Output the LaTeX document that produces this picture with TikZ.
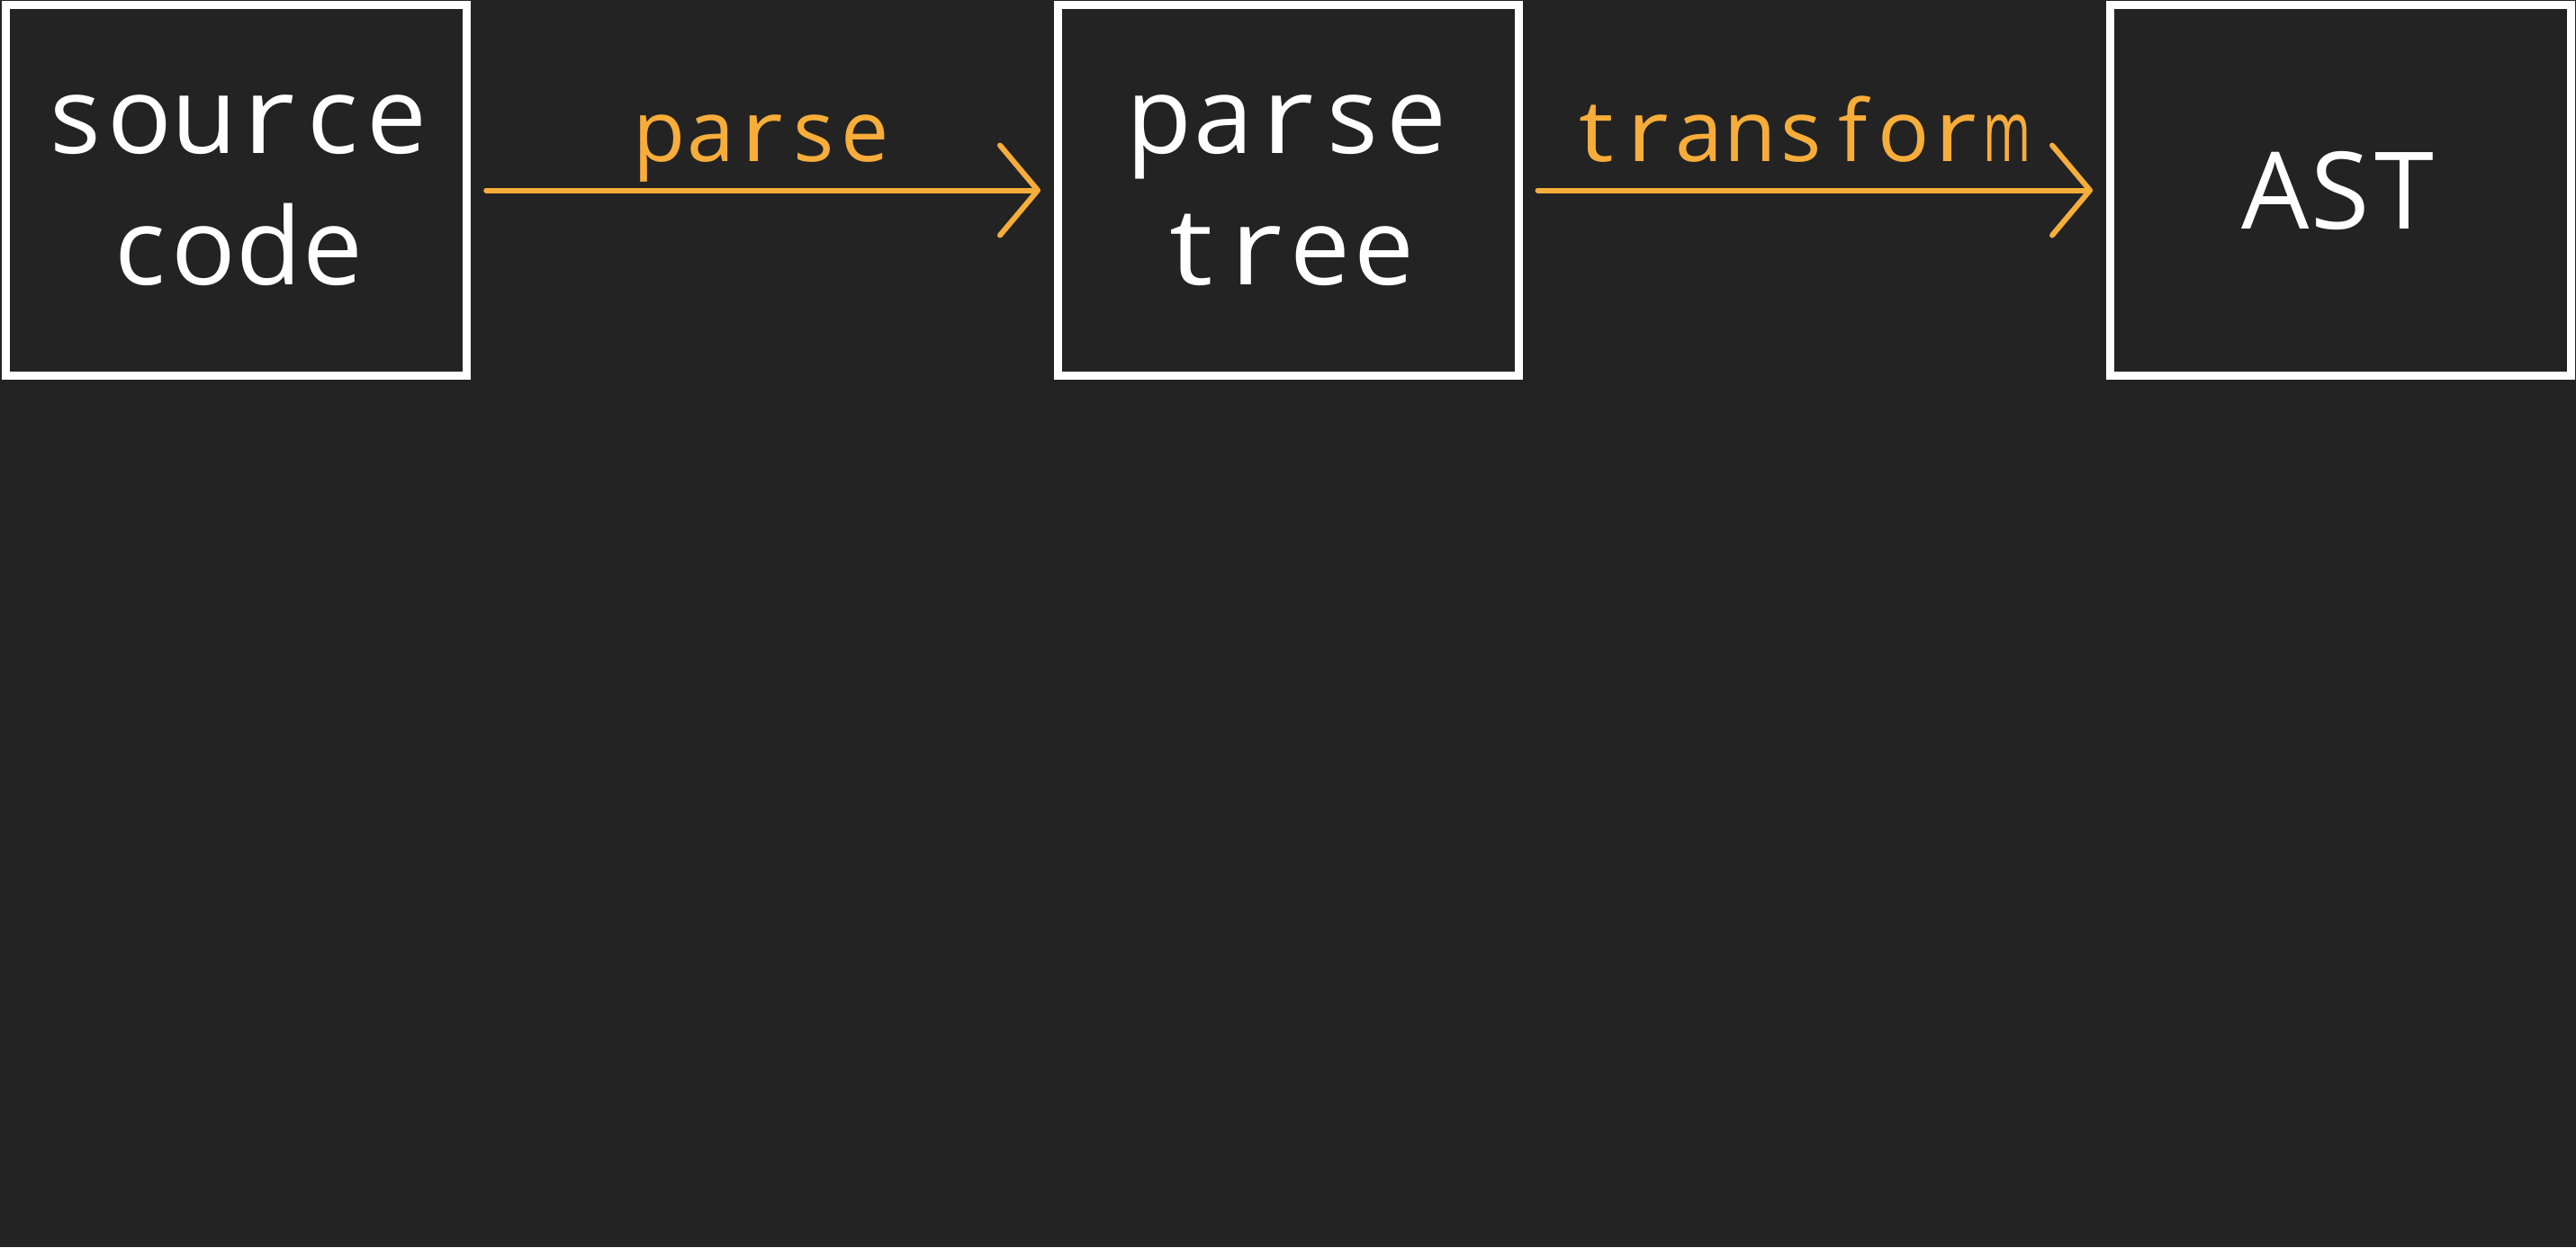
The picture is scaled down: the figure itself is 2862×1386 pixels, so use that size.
\documentclass[tikz,border=0pt]{standalone}
\usepackage{fontspec}
\usepackage{graphicx}
\newfontfamily\diagfont{Open Sans}
\usetikzlibrary{arrows.meta}
\definecolor{bg}{HTML}{232323}
\definecolor{amber}{HTML}{F7AD3A}
% monospace emulation: every character in a cell of 0.6em
\newcommand\monocell[1]{\makebox[0.6em][c]{%
  \ifx#1m\scalebox{0.6}[1]{m}\else
  \ifx#1r\scalebox{1.2}[1]{r}\else
  \ifx#1t\scalebox{1.15}[1]{t}\else#1\fi\fi\fi}}
\def\monochars#1{\ifx#1\relax\else\monocell{#1}\expandafter\monochars\fi}
\newcommand\mtext[1]{\monochars#1\relax}
\tikzset{
  stagebox/.style={draw=white, line width=4.5pt, rectangle, fill=bg,
    minimum width=256pt, minimum height=205.5pt, inner sep=0pt,
    text=white, align=center, font=\diagfont\fontsize{59.5}{73}\selectfont},
  flowarrow/.style={draw=amber, line width=3pt, line cap=round,
    -{Straight Barb[length=21pt, width=50pt, line width=3pt, round]},
    shorten <=8.5pt, shorten >=7.25pt},
  flowlabel/.style={text=amber, anchor=base, yshift=16.25pt, inner sep=0pt,
    font=\diagfont\fontsize{47.5}{57}\selectfont}
}
\begin{document}
\begin{tikzpicture}[x=0.5pt, y=-0.5pt]
  \fill[bg] (0,0) rectangle (2862,1386);
  \useasboundingbox (0,0) rectangle (2862,1386);
  \node[stagebox] (src) at (262.75,211.5) {\mtext{source}\\\mtext{code}};
  \node[stagebox] (tree) at (1431,211.5) {\mtext{parse}\\\mtext{tree}};
  \node[stagebox] (ast) at (2600,211.5) {\mtext{AST}};
  \draw[flowarrow] (src) -- node[flowlabel] {\mtext{parse}} (tree);
  \draw[flowarrow] (tree) -- node[flowlabel, xshift=-7pt] {\mtext{transform}} (ast);
\end{tikzpicture}
\end{document}
